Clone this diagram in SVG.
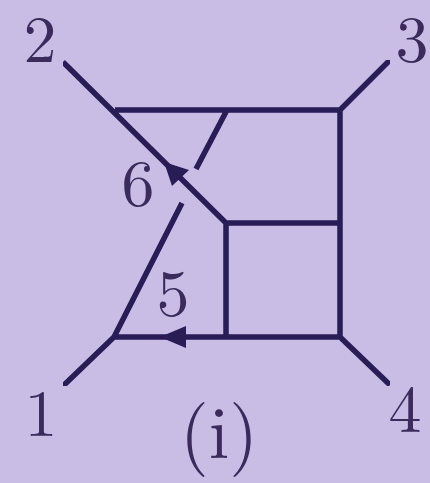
<svg xmlns="http://www.w3.org/2000/svg" width="430" height="483" viewBox="0 0 430 483">
<style>
.l{stroke:#2a1a55;stroke-width:5.5;fill:none;stroke-linecap:butt;stroke-linejoin:round}
.a{fill:#2a1a55}
text{font-family:"Latin Modern Roman","Liberation Serif",serif;font-size:66px;fill:#3a2c5c;text-anchor:middle}
</style>
<defs><filter id="soft" x="0" y="0" width="1" height="1" filterUnits="objectBoundingBox"><feGaussianBlur stdDeviation="0.7"/></filter></defs>
<rect width="430" height="483" fill="#c9bde6"/>
<g id="connectors" filter="url(#soft)">
<path class="l" d="M63 62L226 223M115 110H340M390 60L340 110M340 110V337M226 223H340M226 223V337M114 337H340M390 385L340 337M63 386L114 337M114 337L182 203M196 169L227 110"/>
<polygon class="a" points="164,162 189,170 172,186"/>
<polygon class="a" points="160,337 186,326 186,348"/>
</g>
<g id="labels" filter="url(#soft)">
<text x="40" y="62">2</text>
<text x="412" y="62">3</text>
<text x="41" y="436">1</text>
<text x="405" y="432">4</text>
<text x="138" y="206">6</text>
<text x="173" y="316">5</text>
<text x="219" y="458" style="font-size:74px">(i)</text>
</g>
</svg>
